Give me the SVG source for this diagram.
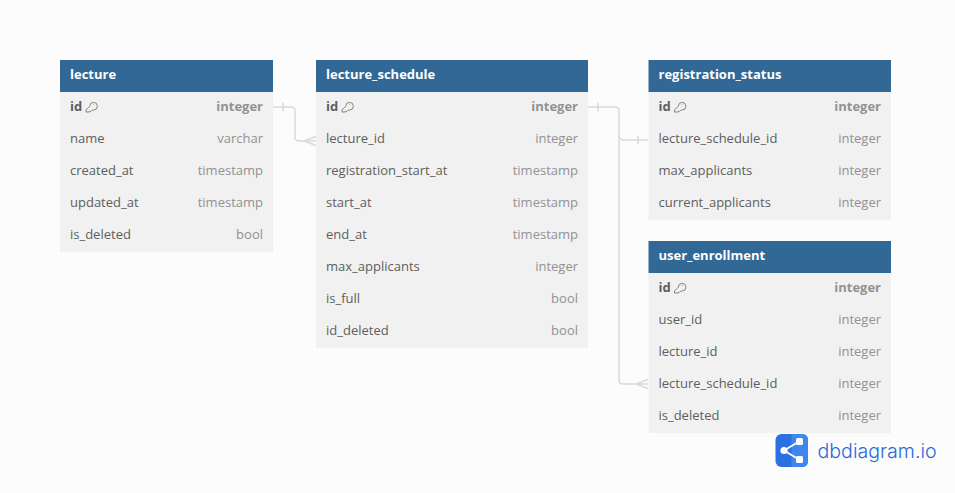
<svg xmlns="http://www.w3.org/2000/svg" width="955" height="493" viewBox="0 0 955 493">
<style>
.hd{fill:#316896}
.bd{fill:#f1f1f1}
.t{font:700 13px "Open Sans","Noto Sans",sans-serif;fill:#fff}
.n{font:400 13px "Open Sans","Noto Sans",sans-serif;fill:#5e5e5e}
.y{font:400 13px "Open Sans","Noto Sans",sans-serif;fill:#929292;text-anchor:end}
.b{font-weight:700}
.c{fill:none;stroke:#d9d9d9;stroke-width:1.5}
.k{fill:none;stroke:#777;stroke-width:.9}
</style>
<defs>
<g id="key" class="k"><path d="M0 2 L0 0 L3.800 -3.800 A3.800 3.800 0 1 1 7.600 0 L6 0.300 L5 1.300 L3.800 1.300 L3.800 2 L2.500 2 Z"/><path d="M7.500 -5.500 L8 -5"/></g>
</defs>
<rect width="955" height="493" fill="#fcfcfc"/>
<g id="connectors">
<path class="c" d="M273 107H291Q295 107 295 111V137Q295 141 299 141H316"/>
<path class="c" d="M283 102.5V111.500M304 141L316 136.500M304 141L316 145.500"/>
<path class="c" d="M588 107H615Q619 107 619 111V135Q619 139 623 140H648"/>
<path class="c" d="M598 102.500V111.500M638 135.500V144.500"/>
<path class="c" d="M619 135V380Q619 384 623 384H648"/>
<path class="c" d="M636 384L648 379.500M636 384L648 388.500"/>
</g>
<g id="lecture">
<rect class="bd" x="60" y="92" width="213" height="160"/><rect class="hd" x="60" y="60" width="213" height="32"/>
<text class="t" x="70" y="79">lecture</text>
<text class="n b" x="70" y="111">id</text><use href="#key" x="86" y="110"/><text class="y b" x="263" y="111">integer</text>
<text class="n" x="70" y="143">name</text><text class="y" x="263" y="143">varchar</text>
<text class="n" x="70" y="175">created_at</text><text class="y" x="263" y="175">timestamp</text>
<text class="n" x="70" y="207">updated_at</text><text class="y" x="263" y="207">timestamp</text>
<text class="n" x="70" y="239">is_deleted</text><text class="y" x="263" y="239">bool</text>
</g>
<g id="lecture_schedule">
<rect class="bd" x="316" y="92" width="272" height="256"/><rect class="hd" x="316" y="60" width="272" height="32"/>
<text class="t" x="326" y="79">lecture_schedule</text>
<text class="n b" x="326" y="111">id</text><use href="#key" x="342" y="110"/><text class="y b" x="578" y="111">integer</text>
<text class="n" x="326" y="143">lecture_id</text><text class="y" x="578" y="143">integer</text>
<text class="n" x="326" y="175">registration_start_at</text><text class="y" x="578" y="175">timestamp</text>
<text class="n" x="326" y="207">start_at</text><text class="y" x="578" y="207">timestamp</text>
<text class="n" x="326" y="239">end_at</text><text class="y" x="578" y="239">timestamp</text>
<text class="n" x="326" y="271">max_applicants</text><text class="y" x="578" y="271">integer</text>
<text class="n" x="326" y="303">is_full</text><text class="y" x="578" y="303">bool</text>
<text class="n" x="326" y="335">id_deleted</text><text class="y" x="578" y="335">bool</text>
</g>
<g id="registration_status">
<rect class="bd" x="648.500" y="92" width="242.500" height="128"/><rect class="hd" x="648.500" y="60" width="242.500" height="32"/>
<text class="t" x="658.500" y="79">registration_status</text>
<text class="n b" x="658.500" y="111">id</text><use href="#key" x="674.500" y="110"/><text class="y b" x="881" y="111">integer</text>
<text class="n" x="658.500" y="143">lecture_schedule_id</text><text class="y" x="881" y="143">integer</text>
<text class="n" x="658.500" y="175">max_applicants</text><text class="y" x="881" y="175">integer</text>
<text class="n" x="658.500" y="207">current_applicants</text><text class="y" x="881" y="207">integer</text>
</g>
<g id="user_enrollment">
<rect class="bd" x="648.500" y="273" width="242.500" height="160"/><rect class="hd" x="648.500" y="241" width="242.500" height="32"/>
<text class="t" x="658.500" y="260">user_enrollment</text>
<text class="n b" x="658.500" y="292">id</text><use href="#key" x="674.500" y="291"/><text class="y b" x="881" y="292">integer</text>
<text class="n" x="658.500" y="324">user_id</text><text class="y" x="881" y="324">integer</text>
<text class="n" x="658.500" y="356">lecture_id</text><text class="y" x="881" y="356">integer</text>
<text class="n" x="658.500" y="388">lecture_schedule_id</text><text class="y" x="881" y="388">integer</text>
<text class="n" x="658.500" y="420">is_deleted</text><text class="y" x="881" y="420">integer</text>
</g>
<g id="logo">
<rect x="775.500" y="434" width="32.500" height="33" rx="6" fill="#2b6fe0"/>
<path d="M791.500 434H802Q808 434 808 440V461Q808 467 802 467H791.500Z" fill="#3f87ee"/>
<path d="M784 450.500L799 441.500M784 450.500L799 459.500" stroke="#fff" stroke-width="2" fill="none"/>
<circle cx="784" cy="450.500" r="3.600" fill="#fff"/><rect x="796" y="438" width="7" height="7" rx="1.500" fill="#fff"/><rect x="796" y="456" width="7" height="7" rx="1.500" fill="#fff"/>
<text x="817.500" y="457.500" font-family="Inter,'Noto Sans',sans-serif" font-size="19.600" font-weight="300" fill="#2a6ad8">dbdiagram.io</text>
</g>
</svg>
